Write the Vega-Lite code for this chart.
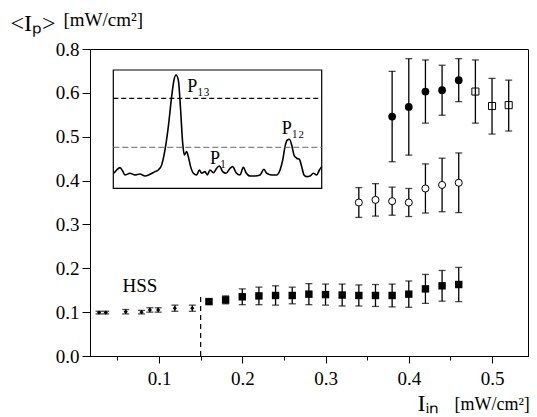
{
  "$schema": "https://vega.github.io/schema/vega-lite/v6.json",
  "width": 438,
  "height": 307,
  "autosize": {"type": "none"},
  "padding": {"left": 90, "top": 49, "right": 9, "bottom": 61},
  "background": "white",
  "config": {
    "view": {"stroke": "black", "strokeWidth": 1},
    "font": "Liberation Serif",
    "axis": {"labelFont": "Liberation Serif", "titleFont": "Liberation Serif", "labelColor": "black", "titleColor": "black", "domainColor": "black", "tickColor": "black", "grid": false, "titleFontWeight": "normal"}
  },
  "datasets": {
    "points": [
      {"s": "hss", "x": 0.028, "y": 0.099, "lo": 0.096, "hi": 0.102},
      {"s": "hss", "x": 0.036, "y": 0.099, "lo": 0.096, "hi": 0.102},
      {"s": "hss", "x": 0.060, "y": 0.101, "lo": 0.096, "hi": 0.106},
      {"s": "hss", "x": 0.079, "y": 0.100, "lo": 0.096, "hi": 0.104},
      {"s": "hss", "x": 0.089, "y": 0.105, "lo": 0.100, "hi": 0.110},
      {"s": "hss", "x": 0.099, "y": 0.105, "lo": 0.100, "hi": 0.110},
      {"s": "hss", "x": 0.119, "y": 0.109, "lo": 0.102, "hi": 0.116},
      {"s": "hss", "x": 0.140, "y": 0.109, "lo": 0.102, "hi": 0.116},
      {"s": "fs", "x": 0.16, "y": 0.124, "lo": 0.120, "hi": 0.128},
      {"s": "fs", "x": 0.18, "y": 0.128, "lo": 0.119, "hi": 0.137},
      {"s": "fs", "x": 0.20, "y": 0.135, "lo": 0.117, "hi": 0.153},
      {"s": "fs", "x": 0.22, "y": 0.137, "lo": 0.117, "hi": 0.157},
      {"s": "fs", "x": 0.24, "y": 0.138, "lo": 0.116, "hi": 0.160},
      {"s": "fs", "x": 0.26, "y": 0.138, "lo": 0.119, "hi": 0.157},
      {"s": "fs", "x": 0.28, "y": 0.141, "lo": 0.117, "hi": 0.165},
      {"s": "fs", "x": 0.30, "y": 0.140, "lo": 0.116, "hi": 0.164},
      {"s": "fs", "x": 0.32, "y": 0.139, "lo": 0.114, "hi": 0.164},
      {"s": "fs", "x": 0.34, "y": 0.138, "lo": 0.114, "hi": 0.162},
      {"s": "fs", "x": 0.36, "y": 0.138, "lo": 0.113, "hi": 0.163},
      {"s": "fs", "x": 0.38, "y": 0.138, "lo": 0.112, "hi": 0.164},
      {"s": "fs", "x": 0.40, "y": 0.141, "lo": 0.111, "hi": 0.171},
      {"s": "fs", "x": 0.42, "y": 0.153, "lo": 0.120, "hi": 0.186},
      {"s": "fs", "x": 0.44, "y": 0.160, "lo": 0.125, "hi": 0.195},
      {"s": "fs", "x": 0.46, "y": 0.163, "lo": 0.124, "hi": 0.202},
      {"s": "oc", "x": 0.34, "y": 0.350, "lo": 0.316, "hi": 0.384},
      {"s": "oc", "x": 0.36, "y": 0.356, "lo": 0.319, "hi": 0.393},
      {"s": "oc", "x": 0.38, "y": 0.353, "lo": 0.321, "hi": 0.385},
      {"s": "oc", "x": 0.40, "y": 0.350, "lo": 0.318, "hi": 0.382},
      {"s": "oc", "x": 0.42, "y": 0.382, "lo": 0.326, "hi": 0.438},
      {"s": "oc", "x": 0.44, "y": 0.390, "lo": 0.329, "hi": 0.451},
      {"s": "oc", "x": 0.46, "y": 0.395, "lo": 0.327, "hi": 0.463},
      {"s": "fc", "x": 0.38, "y": 0.546, "lo": 0.443, "hi": 0.649},
      {"s": "fc", "x": 0.40, "y": 0.568, "lo": 0.458, "hi": 0.678},
      {"s": "fc", "x": 0.42, "y": 0.603, "lo": 0.531, "hi": 0.675},
      {"s": "fc", "x": 0.44, "y": 0.606, "lo": 0.549, "hi": 0.663},
      {"s": "fc", "x": 0.46, "y": 0.629, "lo": 0.580, "hi": 0.678},
      {"s": "os", "x": 0.48, "y": 0.603, "lo": 0.531, "hi": 0.675},
      {"s": "os", "x": 0.50, "y": 0.570, "lo": 0.506, "hi": 0.633},
      {"s": "os", "x": 0.52, "y": 0.572, "lo": 0.513, "hi": 0.629}
    ],
    "boundary": [{"x": 0.15, "y": 0, "y2": 0.135}],
    "notes": [{"x": 0.077, "y": 0.146, "label": "HSS"}],
    "trace": [
      {"t": 0.003, "v": 0.127}, {"t": 0.016, "v": 0.155}, {"t": 0.032, "v": 0.175}, {"t": 0.045, "v": 0.146},
      {"t": 0.056, "v": 0.113}, {"t": 0.080, "v": 0.127}, {"t": 0.104, "v": 0.113}, {"t": 0.128, "v": 0.121},
      {"t": 0.152, "v": 0.104}, {"t": 0.176, "v": 0.118}, {"t": 0.200, "v": 0.141}, {"t": 0.216, "v": 0.155},
      {"t": 0.232, "v": 0.197}, {"t": 0.248, "v": 0.324}, {"t": 0.264, "v": 0.521}, {"t": 0.280, "v": 0.775},
      {"t": 0.291, "v": 0.915}, {"t": 0.301, "v": 0.958}, {"t": 0.312, "v": 0.915}, {"t": 0.323, "v": 0.662},
      {"t": 0.333, "v": 0.380}, {"t": 0.341, "v": 0.282}, {"t": 0.352, "v": 0.310}, {"t": 0.360, "v": 0.268},
      {"t": 0.371, "v": 0.183}, {"t": 0.384, "v": 0.127}, {"t": 0.400, "v": 0.113}, {"t": 0.413, "v": 0.155},
      {"t": 0.424, "v": 0.127}, {"t": 0.440, "v": 0.141}, {"t": 0.451, "v": 0.113}, {"t": 0.464, "v": 0.155},
      {"t": 0.480, "v": 0.132}, {"t": 0.496, "v": 0.169}, {"t": 0.509, "v": 0.189}, {"t": 0.525, "v": 0.141},
      {"t": 0.541, "v": 0.127}, {"t": 0.560, "v": 0.169}, {"t": 0.573, "v": 0.183}, {"t": 0.589, "v": 0.132},
      {"t": 0.608, "v": 0.113}, {"t": 0.624, "v": 0.177}, {"t": 0.637, "v": 0.132}, {"t": 0.656, "v": 0.104},
      {"t": 0.680, "v": 0.104}, {"t": 0.704, "v": 0.113}, {"t": 0.723, "v": 0.161}, {"t": 0.736, "v": 0.127},
      {"t": 0.760, "v": 0.113}, {"t": 0.784, "v": 0.113}, {"t": 0.800, "v": 0.155}, {"t": 0.813, "v": 0.239},
      {"t": 0.824, "v": 0.352}, {"t": 0.835, "v": 0.408}, {"t": 0.845, "v": 0.414}, {"t": 0.856, "v": 0.366},
      {"t": 0.867, "v": 0.282}, {"t": 0.880, "v": 0.254}, {"t": 0.893, "v": 0.245}, {"t": 0.904, "v": 0.183},
      {"t": 0.915, "v": 0.113}, {"t": 0.928, "v": 0.099}, {"t": 0.944, "v": 0.104}, {"t": 0.960, "v": 0.127},
      {"t": 0.976, "v": 0.113}, {"t": 0.989, "v": 0.155}, {"t": 1.000, "v": 0.183}
    ],
    "frame": [{"t0": 0, "t1": 1, "v0": 0, "v1": 1}],
    "levels": [{"v": 0.7606, "level": "upper"}, {"v": 0.3465, "level": "lower"}],
    "peaks": [
      {"t": 0.355, "v": 0.817, "label": "P₁₃"},
      {"t": 0.464, "v": 0.206, "label": "P₁"},
      {"t": 0.808, "v": 0.459, "label": "P₁₂"}
    ]
  },
  "layer": [
    {
      "layer": [
        {
          "data": {"name": "trace"},
          "mark": {"type": "line", "color": "black", "strokeWidth": 1.6, "interpolate": "monotone"},
          "encoding": {
            "x": {"field": "t", "type": "quantitative", "scale": {"domain": [-0.1118, 1.9899], "nice": false, "zero": false},
              "axis": {"orient": "bottom", "title": "[mW/cm²]", "titleFont": "Liberation Serif", "titleX": 364, "titleY": 53, "titleAlign": "left", "titleBaseline": "alphabetic", "titleFontSize": 18, "labels": false, "ticks": false, "domain": false}},
            "y": {"field": "v", "type": "quantitative", "scale": {"domain": [-1.4176, 1.1775], "nice": false, "zero": false},
              "axis": {"orient": "left", "title": "[mW/cm²]", "titleFont": "Liberation Serif", "titleAngle": 0, "titleX": -27, "titleY": -24, "titleAlign": "left", "titleBaseline": "alphabetic", "titleFontSize": 19, "labels": false, "ticks": false, "domain": false}}
          }
        },
        {
          "data": {"name": "frame"},
          "mark": {"type": "rect", "fill": "white", "fillOpacity": 0, "stroke": "black", "strokeWidth": 1.2},
          "encoding": {
            "x": {"field": "t0", "type": "quantitative"},
            "x2": {"field": "t1"},
            "y": {"field": "v0", "type": "quantitative"},
            "y2": {"field": "v1"}
          }
        },
        {
          "data": {"name": "levels"},
          "transform": [{"filter": "datum.level == 'upper'"}],
          "mark": {"type": "rule", "color": "black", "strokeWidth": 1.2, "strokeDash": [5, 3]},
          "encoding": {
            "y": {"field": "v", "type": "quantitative"},
            "x": {"datum": 0},
            "x2": {"datum": 1}
          }
        },
        {
          "data": {"name": "levels"},
          "transform": [{"filter": "datum.level == 'lower'"}],
          "mark": {"type": "rule", "color": "#666666", "strokeWidth": 1, "strokeDash": [6, 3]},
          "encoding": {
            "y": {"field": "v", "type": "quantitative"},
            "x": {"datum": 0},
            "x2": {"datum": 1}
          }
        },
        {
          "data": {"name": "peaks"},
          "mark": {"type": "text", "align": "left", "baseline": "alphabetic", "fontSize": 18, "font": "Liberation Serif", "color": "black"},
          "encoding": {
            "x": {"field": "t", "type": "quantitative"},
            "y": {"field": "v", "type": "quantitative"},
            "text": {"field": "label"}
          }
        }
      ]
    },
    {
      "layer": [
        {
          "data": {"name": "boundary"},
          "mark": {"type": "rule", "color": "black", "strokeWidth": 1.2, "strokeDash": [5, 4]},
          "encoding": {
            "x": {"field": "x", "type": "quantitative",
              "scale": {"domain": [0.0171, 0.5432], "nice": false, "zero": false},
              "axis": {
                "orient": "bottom",
                "values": [0.05, 0.1, 0.15, 0.2, 0.25, 0.3, 0.35, 0.4, 0.45, 0.5],
                "labelExpr": "abs(datum.value*10 - round(datum.value*10)) < 0.001 ? format(datum.value, '.1f') : ''",
                "tickSize": {"condition": {"test": "abs(datum.value*10 - round(datum.value*10)) < 0.001", "value": 7}, "value": 4},
                "labelFont": "Liberation Serif", "labelFontSize": 19, "labelPadding": 6, "labelFlush": false, "labelOverlap": false,
                "title": "Iᵢₙ", "titleFont": "Liberation Serif", "titleX": 327, "titleY": 54, "titleAlign": "left", "titleBaseline": "alphabetic", "titleFontSize": 24
              }},
            "y": {"field": "y", "type": "quantitative",
              "scale": {"domain": [0, 0.7], "nice": false, "zero": false},
              "axis": {
                "orient": "left",
                "values": [0, 0.05, 0.1, 0.15, 0.2, 0.25, 0.3, 0.35, 0.4, 0.45, 0.5, 0.55, 0.6, 0.65, 0.7],
                "labelExpr": "datum.value > 0.69 ? '0.8' : (abs(datum.value*10 - round(datum.value*10)) < 0.001 ? format(datum.value, '.1f') : '')",
                "tickSize": {"condition": {"test": "abs(datum.value*10 - round(datum.value*10)) < 0.001", "value": 8}, "value": 5},
                "labelFont": "Liberation Serif", "labelFontSize": 19, "labelPadding": 3, "labelFlush": false, "labelOverlap": false,
                "title": "<Iₚ>", "titleFont": "Liberation Serif", "titleAngle": 0, "titleX": -80, "titleY": -19, "titleAlign": "left", "titleBaseline": "alphabetic", "titleFontSize": 24
              }},
            "y2": {"field": "y2"}
          }
        },
        {
          "data": {"name": "points"},
          "mark": {"type": "rule", "color": "black", "strokeWidth": 1.3},
          "encoding": {
            "x": {"field": "x", "type": "quantitative"},
            "y": {"field": "lo", "type": "quantitative"},
            "y2": {"field": "hi"}
          }
        },
        {
          "data": {"name": "points"},
          "mark": {"type": "tick", "orient": "horizontal", "size": 7, "thickness": 1.3, "color": "black"},
          "encoding": {
            "x": {"field": "x", "type": "quantitative"},
            "y": {"field": "lo", "type": "quantitative"}
          }
        },
        {
          "data": {"name": "points"},
          "mark": {"type": "tick", "orient": "horizontal", "size": 7, "thickness": 1.3, "color": "black"},
          "encoding": {
            "x": {"field": "x", "type": "quantitative"},
            "y": {"field": "hi", "type": "quantitative"}
          }
        },
        {
          "data": {"name": "points"},
          "transform": [{"filter": "datum.s == 'hss'"}],
          "mark": {"type": "point", "shape": "diamond", "filled": true, "size": 18, "color": "black", "opacity": 1},
          "encoding": {
            "x": {"field": "x", "type": "quantitative"},
            "y": {"field": "y", "type": "quantitative"}
          }
        },
        {
          "data": {"name": "points"},
          "transform": [{"filter": "datum.s == 'fs'"}],
          "mark": {"type": "point", "shape": "square", "filled": true, "size": 55, "color": "black", "opacity": 1},
          "encoding": {
            "x": {"field": "x", "type": "quantitative"},
            "y": {"field": "y", "type": "quantitative"}
          }
        },
        {
          "data": {"name": "points"},
          "transform": [{"filter": "datum.s == 'oc'"}],
          "mark": {"type": "point", "shape": "circle", "filled": false, "fill": "white", "fillOpacity": 1, "size": 50, "stroke": "black", "strokeWidth": 1, "opacity": 1},
          "encoding": {
            "x": {"field": "x", "type": "quantitative"},
            "y": {"field": "y", "type": "quantitative"}
          }
        },
        {
          "data": {"name": "points"},
          "transform": [{"filter": "datum.s == 'fc'"}],
          "mark": {"type": "point", "shape": "circle", "filled": true, "size": 60, "color": "black", "opacity": 1},
          "encoding": {
            "x": {"field": "x", "type": "quantitative"},
            "y": {"field": "y", "type": "quantitative"}
          }
        },
        {
          "data": {"name": "points"},
          "transform": [{"filter": "datum.s == 'os'"}],
          "mark": {"type": "point", "shape": "square", "filled": false, "size": 50, "stroke": "black", "strokeWidth": 1, "opacity": 1},
          "encoding": {
            "x": {"field": "x", "type": "quantitative"},
            "y": {"field": "y", "type": "quantitative"}
          }
        },
        {
          "data": {"name": "notes"},
          "mark": {"type": "text", "align": "center", "baseline": "alphabetic", "fontSize": 19, "font": "Liberation Serif", "color": "black"},
          "encoding": {
            "x": {"field": "x", "type": "quantitative"},
            "y": {"field": "y", "type": "quantitative"},
            "text": {"field": "label"}
          }
        }
      ]
    }
  ],
  "resolve": {"scale": {"x": "independent", "y": "independent"}}
}
